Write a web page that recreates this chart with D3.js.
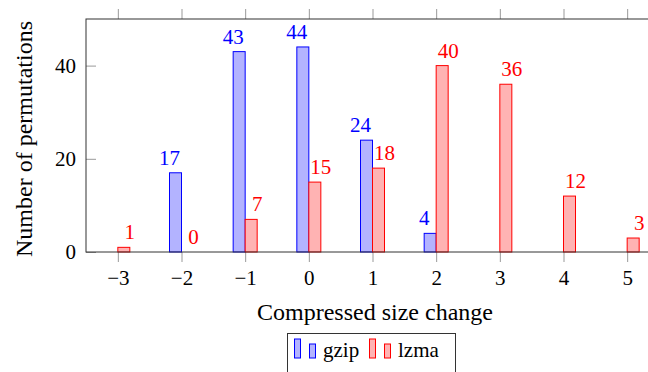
<!DOCTYPE html>
<html>
<head>
<meta charset="utf-8">
<script src="https://cdn.jsdelivr.net/npm/d3@7"></script>
<style>
  body { margin: 0; background: #fff; }
  svg text { font-family: "Liberation Serif", "DejaVu Serif", serif; }
</style>
</head>
<body>
<div id="chart"></div>
<script>
// Chart data.
const changes = [-3, -2, -1, 0, 1, 2, 3, 4, 5];
const gzipChanges = [-2, -1, 0, 1, 2];
const gzipCounts = [17, 43, 44, 24, 4];
const lzmaCounts = [1, 0, 7, 15, 18, 40, 36, 12, 3];
const yTicks = [0, 20, 40];
const seriesNames = ["gzip", "lzma"];

// Size of the page and plot box.
const width = 648;
const height = 372;
const margin = { top: 19, left: 86, bottom: 252, right: 659 };
const barW = 12;
const fontSize = 21;
const titleSize = 24;

const blue = { stroke: "#0000ff", fill: "#b3b3ff" };
const red = { stroke: "#ff0000", fill: "#ffb3b3" };

const svg = d3.select("#chart")
    .append("svg")
    .attr("width", width)
    .attr("height", height);

// Scales for change value and count.
const xScale = d3.scaleLinear()
    .domain([-3.5, 5.5])
    .range([margin.left, margin.right]);

const yScale = d3.scaleLinear()
    .domain([0, 50])
    .range([margin.bottom, margin.top]);

// Bottom and top ticks point outwards from the box.
svg.append("g")
    .attr("transform", `translate(0, ${margin.bottom})`)
    .call(d3.axisBottom(xScale).tickValues(changes).tickSize(10).tickPadding(8)
        .tickFormat(d => d < 0 ? "\u2212" + Math.abs(d) : d))
    .attr("font-size", fontSize)
    .call(g => g.select(".domain").remove())
    .call(g => g.selectAll(".tick line").attr("stroke", "#999"))
    .call(g => g.selectAll(".tick text").attr("fill", "#000"));

svg.append("g")
    .attr("transform", `translate(0, ${margin.top})`)
    .call(d3.axisTop(xScale).tickValues(changes).tickSize(10).tickFormat(""))
    .call(g => g.select(".domain").remove())
    .call(g => g.selectAll(".tick line").attr("stroke", "#999"));

// Left ticks point into the box.
svg.append("g")
    .attr("transform", `translate(${margin.left}, 0)`)
    .call(d3.axisLeft(yScale).tickValues(yTicks).tickSize(-10).tickPadding(10))
    .attr("font-size", fontSize)
    .call(g => g.select(".domain").remove())
    .call(g => g.selectAll(".tick line").attr("stroke", "#999"))
    .call(g => g.selectAll(".tick text").attr("fill", "#000"));

// gzip bars sit left of the tick, lzma bars right of it.
svg.append("g")
    .selectAll("rect")
    .data(gzipChanges.map((c, i) => ({ c, v: gzipCounts[i] })))
    .enter()
    .append("rect")
    .attr("x", d => xScale(d.c) - barW)
    .attr("y", d => yScale(d.v))
    .attr("width", barW)
    .attr("height", d => yScale(0) - yScale(d.v))
    .attr("fill", blue.fill)
    .attr("stroke", blue.stroke);

svg.append("g")
    .selectAll("rect")
    .data(changes.map((c, i) => ({ c, v: lzmaCounts[i] })))
    .enter()
    .append("rect")
    .attr("x", d => xScale(d.c))
    .attr("y", d => yScale(d.v))
    .attr("width", barW)
    .attr("height", d => yScale(0) - yScale(d.v))
    .attr("fill", red.fill)
    .attr("stroke", red.stroke);

// Value labels above the bars.
svg.append("g")
    .selectAll("text")
    .data(gzipChanges.map((c, i) => ({ c, v: gzipCounts[i] })))
    .enter()
    .append("text")
    .attr("x", d => xScale(d.c) - barW)
    .attr("y", d => yScale(d.v) - 8)
    .attr("text-anchor", "middle")
    .attr("font-size", fontSize)
    .attr("fill", blue.stroke)
    .text(d => d.v);

svg.append("g")
    .selectAll("text")
    .data(changes.map((c, i) => ({ c, v: lzmaCounts[i] })))
    .enter()
    .append("text")
    .attr("x", d => xScale(d.c) + barW)
    .attr("y", d => yScale(d.v) - 8)
    .attr("text-anchor", "middle")
    .attr("font-size", fontSize)
    .attr("fill", red.stroke)
    .text(d => d.v);

// Box around the plot.
svg.append("rect")
    .attr("x", margin.left)
    .attr("y", margin.top)
    .attr("width", margin.right - margin.left)
    .attr("height", margin.bottom - margin.top)
    .attr("fill", "none")
    .attr("stroke", "#333");

// Axis titles.
svg.append("text")
    .attr("x", 375)
    .attr("y", 320)
    .attr("text-anchor", "middle")
    .attr("font-size", titleSize)
    .text("Compressed size change");

svg.append("text")
    .attr("transform", `translate(32, 139) rotate(-90)`)
    .attr("text-anchor", "middle")
    .attr("font-size", titleSize)
    .text("Number of permutations");

// Legend with two small bars per entry.
const legend = svg.append("g");
legend.append("rect")
    .attr("x", 287.5)
    .attr("y", 333.5)
    .attr("width", 168)
    .attr("height", 50)
    .attr("fill", "#fff")
    .attr("stroke", "#333");

const legendItems = [
    { name: seriesNames[0], color: blue, x: 294 },
    { name: seriesNames[1], color: red, x: 369 }
];
legendItems.forEach(item => {
    legend.append("rect")
        .attr("x", item.x + 0.5).attr("y", 339)
        .attr("width", 6).attr("height", 19)
        .attr("fill", item.color.fill).attr("stroke", item.color.stroke);
    legend.append("rect")
        .attr("x", item.x + 15.5).attr("y", 344)
        .attr("width", 6).attr("height", 14)
        .attr("fill", item.color.fill).attr("stroke", item.color.stroke);
    legend.append("text")
        .attr("x", item.x + 29)
        .attr("y", 357)
        .attr("font-size", fontSize)
        .text(item.name);
});
</script>
</body>
</html>
